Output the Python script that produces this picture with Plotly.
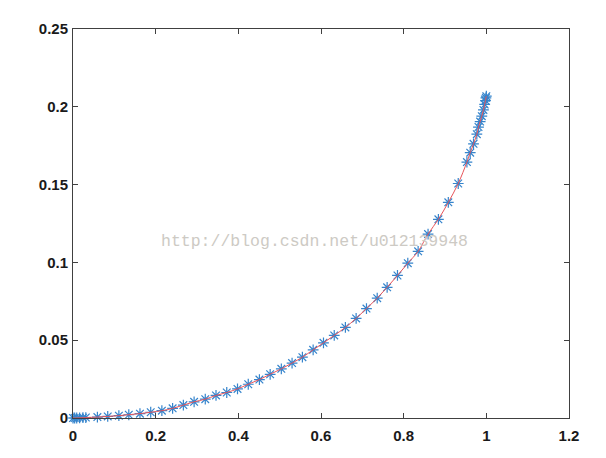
import plotly.graph_objects as go

x_vals = [0.0, 0.004, 0.009, 0.016, 0.024, 0.031,
          0.059, 0.084, 0.111, 0.135, 0.162, 0.188, 0.215, 0.241, 0.267,
          0.293, 0.320, 0.346, 0.372, 0.398, 0.424, 0.451, 0.477, 0.504,
          0.530, 0.555, 0.581, 0.606, 0.632, 0.659, 0.685, 0.710, 0.736,
          0.760, 0.785, 0.810, 0.835, 0.859, 0.884, 0.908, 0.932, 0.953,
          0.961, 0.969, 0.977, 0.981, 0.985, 0.989, 0.993, 0.996, 0.998,
          0.999, 1.0]
y_vals = [0.0, 0.0, 0.0, 0.0001, 0.0002, 0.0003,
          0.0006, 0.0010, 0.0015, 0.0021, 0.0028, 0.0037, 0.0047, 0.0062, 0.0083,
          0.0104, 0.0121, 0.0145, 0.0164, 0.0187, 0.0217, 0.0247, 0.0281, 0.0316,
          0.0353, 0.0391, 0.0438, 0.0483, 0.0531, 0.0582, 0.0640, 0.0703, 0.0770,
          0.0840, 0.0916, 0.0995, 0.1071, 0.1182, 0.1277, 0.1386, 0.1507, 0.1645,
          0.1705, 0.1762, 0.1824, 0.1870, 0.1905, 0.1940, 0.1980, 0.2015, 0.2040,
          0.2058, 0.2068]

x_ticks = [0, 0.2, 0.4, 0.6, 0.8, 1.0, 1.2]
x_tick_labels = ["0", "0.2", "0.4", "0.6", "0.8", "1", "1.2"]
y_ticks = [0, 0.05, 0.1, 0.15, 0.2, 0.25]
y_tick_labels = ["0", "0.05", "0.1", "0.15", "0.2", "0.25"]

watermark = "http://blog.csdn.net/u012139948"

fig = go.Figure()
fig.add_trace(go.Scatter(
    x=x_vals, y=y_vals, mode="markers",
    marker=dict(symbol="asterisk-open", size=9, color="#3584cc",
                line=dict(width=1.2, color="#3584cc")),
    cliponaxis=False, showlegend=False))
fig.add_trace(go.Scatter(
    x=x_vals, y=y_vals, mode="lines", line_shape="spline",
    line=dict(color="#e8545a", width=1),
    cliponaxis=False, showlegend=False))

tick_font = dict(family="Liberation Sans, Arial", size=15, color="#1a1a1a", weight="bold")
axis_common = dict(showgrid=False, zeroline=False, showline=True, mirror="ticks",
                   linecolor="#404040", linewidth=1, ticks="inside", ticklen=5,
                   tickcolor="#404040", tickfont=tick_font)
fig.update_xaxes(range=[0, 1.2], tickvals=x_ticks, ticktext=x_tick_labels,
                 ticklabelstandoff=4, **axis_common)
fig.update_yaxes(range=[0, 0.25], tickvals=y_ticks, ticktext=y_tick_labels,
                 ticklabelstandoff=1, **axis_common)

fig.add_annotation(text=watermark, xref="paper", yref="paper", x=0.487, y=0.455,
                   showarrow=False,
                   font=dict(family="Liberation Mono, Courier New, monospace",
                             size=16.5, color="#cdcac4"))

fig.update_layout(width=598, height=450,
                  margin=dict(l=65, r=37, t=18, b=40),
                  paper_bgcolor="white", plot_bgcolor="white")

fig.write_html("out.html")
